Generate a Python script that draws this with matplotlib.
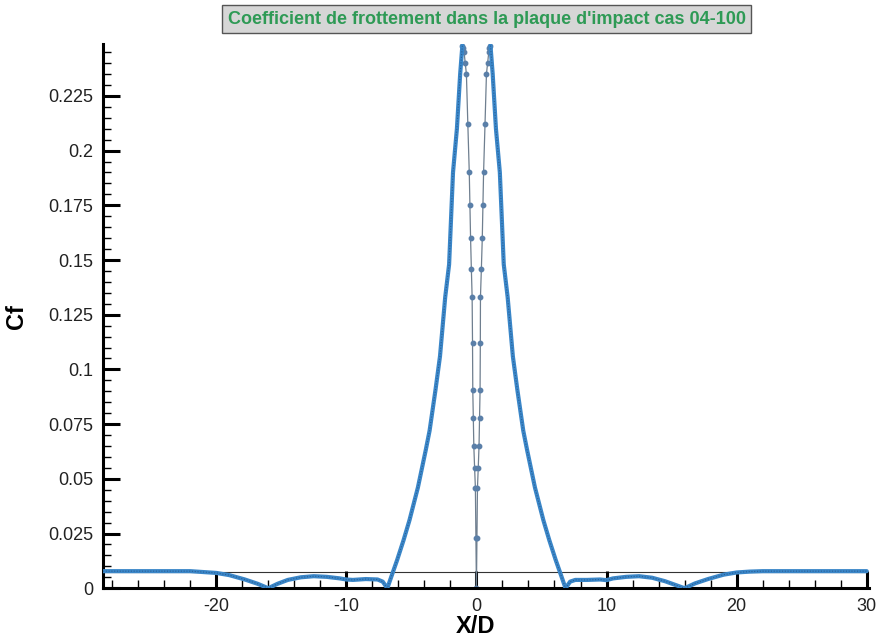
import matplotlib
matplotlib.use("Agg")
import matplotlib.pyplot as plt
from matplotlib.ticker import MultipleLocator, FuncFormatter

plt.rcParams["font.family"] = ["Liberation Sans", "DejaVu Sans"]

# Cf along the impact plate, outer branches
x_left = [-28.7, -25.0, -22.0, -21.0, -20.0, -19.0, -17.8, -16.8, -16.0, -15.3, -14.5,
          -13.5, -12.5, -11.5, -10.5, -10.0, -9.5, -8.5, -7.6, -7.2, -6.85,
          -6.5, -6.1, -5.6, -5.15, -4.5, -3.9, -3.6, -3.15, -2.8, -2.4, -2.1,
          -1.8, -1.5, -1.25, -1.08]
cf_left = [0.0078, 0.0078, 0.0078, 0.0074, 0.0070, 0.0060, 0.0040, 0.0020, 0.0, 0.0020, 0.0038,
           0.0050, 0.0055, 0.0052, 0.0045, 0.0040, 0.0038, 0.0042, 0.0040, 0.0030, 0.0,
           0.0060, 0.0128, 0.0220, 0.0310, 0.0460, 0.0630, 0.0720, 0.0905, 0.1060, 0.1330, 0.1480,
           0.1900, 0.2100, 0.2350, 0.2480]
x_right = [1.08, 1.25, 1.5, 1.8, 2.1, 2.4, 2.8, 3.15, 3.6, 3.9, 4.5, 5.15, 5.6, 6.1,
           6.5, 6.85, 7.2, 7.6, 8.5, 9.5, 10.0, 10.5, 11.5, 12.5, 13.5, 14.5, 15.3, 16.0,
           16.8, 17.8, 19.0, 20.0, 21.0, 22.0, 25.0, 30.0]
cf_right = [0.2480, 0.2350, 0.2100, 0.1900, 0.1480, 0.1330, 0.1060, 0.0905, 0.0720, 0.0630,
            0.0460, 0.0310, 0.0220, 0.0128, 0.0060, 0.0, 0.0030, 0.0038, 0.0038, 0.0040, 0.0037,
            0.0045, 0.0052, 0.0055, 0.0048, 0.0032, 0.0015, 0.0, 0.0022, 0.0042, 0.0062,
            0.0072, 0.0076, 0.0078, 0.0078, 0.0078]

# inner branches between the two peaks
x_inner = [-1.08, -1.0, -0.95, -0.86, -0.77, -0.66, -0.55, -0.5, -0.45, -0.39, -0.33,
           -0.3, -0.28, -0.24, -0.2, -0.14, -0.08, -0.04, 0.0,
           0.04, 0.08, 0.14, 0.2, 0.24, 0.28, 0.3, 0.31, 0.38, 0.45, 0.5, 0.55,
           0.66, 0.77, 0.86, 0.95, 1.0, 1.08]
cf_inner = [0.2480, 0.2470, 0.2450, 0.2400, 0.2350, 0.2120, 0.1900, 0.1750, 0.1600, 0.1460,
            0.1330, 0.1120, 0.0905, 0.0780, 0.0650, 0.0550, 0.0460, 0.0230, 0.0,
            0.0230, 0.0460, 0.0550, 0.0650, 0.0780, 0.0905, 0.1120, 0.1330, 0.1460, 0.1600,
            0.1750, 0.1900, 0.2120, 0.2350, 0.2400, 0.2450, 0.2470, 0.2480]

cf_ref = 0.0075
xticks = [-20, -10, 0, 10, 20, 30]
title = "Coefficient de frottement dans la plaque d'impact cas 04-100"

fig = plt.figure(figsize=(8.77, 6.38), dpi=100)
ax = fig.add_axes([0.1175, 0.078, 0.873, 0.853])

ax.axhline(cf_ref, color="#333333", lw=0.8, zorder=1)
ax.plot(x_inner, cf_inner, color="#6f7f8f", lw=0.9, marker="o", ms=3.2,
        mfc="#5a7fa8", mec="#5a7fa8", zorder=2)
for xs, ys in ((x_left, cf_left), (x_right, cf_right)):
    ax.plot(xs, ys, color="#3a86c8", lw=3.0, solid_capstyle="round",
            solid_joinstyle="round", zorder=3)
    ax.plot(xs, ys, color="#2a5f95", lw=0.8, ls=(0, (1, 1.5)), zorder=4)

ax.set_xlim(-28.7, 30.15)
ax.set_ylim(0, 0.2487)
ax.set_xticks(xticks)
ax.xaxis.set_minor_locator(MultipleLocator(2))
ax.xaxis.set_major_formatter(FuncFormatter(lambda v, p: f"{v:g}"))
ax.yaxis.set_major_locator(MultipleLocator(0.025))
ax.yaxis.set_minor_locator(MultipleLocator(0.005))
ax.yaxis.set_major_formatter(FuncFormatter(lambda v, p: f"{v:g}"))

for s in ("top", "right"):
    ax.spines[s].set_visible(False)
for s in ("left", "bottom"):
    ax.spines[s].set_linewidth(2.2)

ax.tick_params(which="major", direction="in", length=12, width=2.2,
               labelsize=13, pad=7, labelcolor="#222222")
ax.tick_params(which="minor", direction="in", length=6, width=1.0)

ax.set_xlabel("X/D", fontsize=17, fontweight="bold")
ax.xaxis.set_label_coords(0.487, -0.05)
ax.set_ylabel("Cf", fontsize=17, fontweight="bold")
ax.yaxis.set_label_coords(-0.098, 0.5)

fig.text(0.555, 0.97, title, ha="center", va="center", fontsize=13,
         fontweight="bold", color="#2e9a55",
         bbox=dict(boxstyle="square,pad=0.3", fc="#d6d6d6", ec="#555555", lw=1.0))

fig.savefig("out.png", dpi=100)
